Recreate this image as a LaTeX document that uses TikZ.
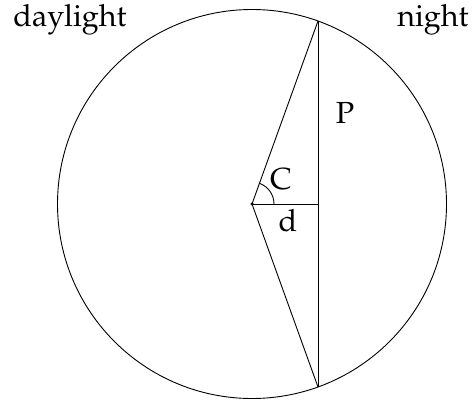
\documentclass[tikz,border=0pt]{standalone}
\usepackage[T1]{fontenc}
\usepackage{mathpazo}
\usetikzlibrary{positioning,calc}

\begin{document}
\begin{tikzpicture}[
    x=1pt, y=1pt,
    label/.style={font=\fontsize{30.5}{34}\selectfont, inner sep=0pt},
    line/.style={draw, line width=0.9pt},
    dot/.style={circle, fill, inner sep=0pt, minimum size=3.5pt}
]
\useasboundingbox (0,0) rectangle (473,400);

% Punkte
\node[dot] (O) at (252,196) {};
\coordinate (A) at (318,379);
\coordinate (B) at (318,13);
\coordinate (M) at (318,196);

% Kreis und Sehne
\draw[line] (O.center) circle (194.5);
\draw[line] (A) -- (B);
\draw[line] (O.center) -- (A);
\draw[line] (O.center) -- (B);
\draw[line] (O.center) -- (M);

% Winkel
\draw[line] ($(O.center)+(0:22)$) arc (0:70.2:22);

% Beschriftungen
\node[label] (day) at (70,380) {daylight};
\node[label] (night) at (433,380) {night};
\node[label] (C) at (281,221) {C};
\node[label] (d) at (288,179) {d};
\node[label] (P) at (345,287) {P};

\end{tikzpicture}
\end{document}
